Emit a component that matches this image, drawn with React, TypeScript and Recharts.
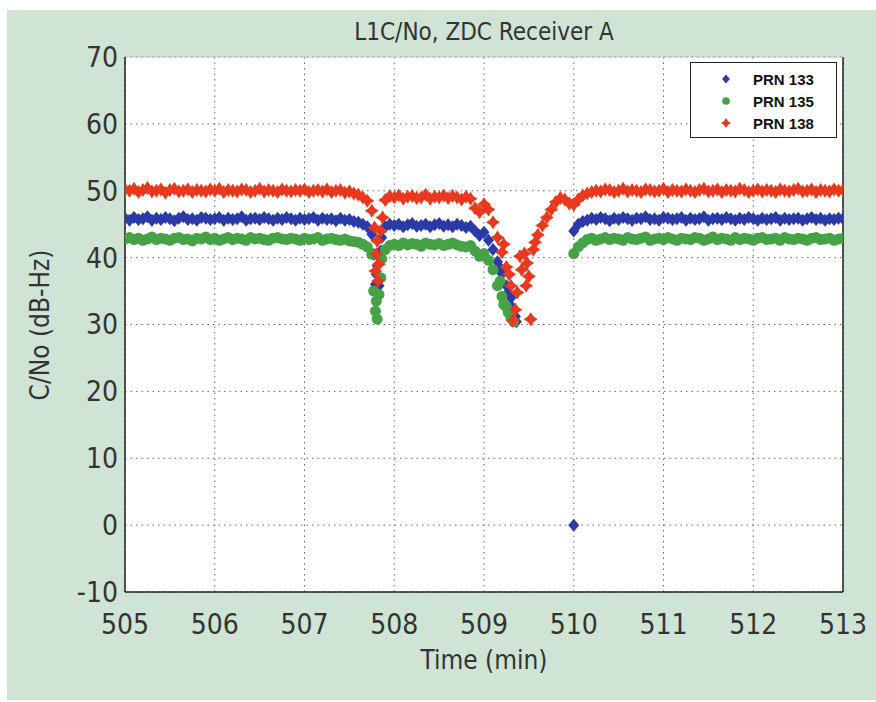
import React from 'react'
import { ScatterChart, Scatter, XAxis, YAxis, CartesianGrid, ReferenceLine } from 'recharts'

// samples every 0.05 min starting at 505.00 (index -> time)
const START = 505
const STEP = 0.05

const prn138 = [
  50.2, 50.0, 50.3, 49.8, 50.1, 50.4, 49.9, 50.0, 50.2, 49.7, 50.1, 50.3, 49.9, 50.0, 50.2, 49.8, 50.1, 50.0, 49.9, 50.2,
  50.0, 50.3, 49.8, 50.1, 50.0, 49.9, 50.2, 50.1, 49.8, 50.0, 50.3, 49.9, 50.1, 50.0, 49.8, 50.2, 50.0, 49.9, 50.1, 50.0,
  50.2, 49.8, 50.0, 50.1, 49.9, 50.2, 49.8, 50.0, 50.1, 49.7, 49.9, 49.6, 49.4, 49.0, 48.5,
  47.0, 40.5, 44.0, 48.6, 49.2,
  49.0, 49.3, 48.8, 49.1, 49.2, 48.9, 49.0, 49.4, 48.8, 49.1, 49.0, 49.3, 48.9, 49.2, 49.0, 48.7, 49.1, 48.8,
  47.4, 46.8, 48.0, 47.2, 45.3, 43.0, 40.8, 38.6, 35.8, 32.2, 40.2, 40.6, 37.2, 41.2, 43.4, 44.8, 46.0, 47.2,
  48.3, 48.9, 48.7, 48.1, 47.9, 48.7, 49.3, 49.6,
  49.8, 50.0, 49.9, 50.2, 50.1, 49.8, 50.0, 50.3, 49.9, 50.1,
  50.0, 49.8, 50.2, 50.1, 49.9, 50.0, 50.3, 49.8, 50.1, 50.0,
  49.9, 50.2, 50.0, 49.8, 50.1, 50.3, 49.9, 50.0, 50.2, 49.8,
  50.1, 50.0, 49.9, 50.3, 50.1, 49.8, 50.0, 50.2, 49.9, 50.1,
  50.0, 49.8, 50.2, 50.0, 49.9, 50.1, 50.3, 49.9, 50.0, 50.2,
  49.8, 50.1, 50.0, 49.9, 50.2, 50.0, 50.1,
]

const prn133 = [
  45.9, 45.6, 46.0, 45.7, 45.8, 46.1, 45.6, 45.9, 45.7, 46.0,
  45.8, 45.5, 45.9, 46.1, 45.7, 45.8, 45.6, 46.0, 45.9, 45.7,
  45.8, 46.0, 45.6, 45.9, 45.7, 45.8, 46.1, 45.6, 45.8, 45.9,
  45.7, 46.0, 45.8, 45.6, 45.9, 45.7, 46.0, 45.8, 45.6, 45.9,
  45.7, 45.8, 46.0, 45.6, 45.9, 45.7, 45.8, 45.5, 45.9, 45.6,
  45.7, 45.4, 45.3, 45.0, 44.6,
  43.5, 37.5, 41.0, 44.6, 45.0,
  44.8, 45.0, 44.6, 44.9, 45.1, 44.7, 44.8, 45.0, 44.6, 44.9, 45.1, 44.7, 44.9, 44.6, 45.0, 44.8, 44.5, 44.7,
  44.0, 43.3, 43.8, 42.6, 41.2, 39.4, 37.6, 35.8, 34.0, 31.2,
  null, null, null, null, null, null, null, null, null, null, null, null,
  44.0, 45.0, 45.4,
  45.6, 45.9, 45.7, 46.0, 45.8, 45.5, 45.9, 45.7, 46.0, 45.8,
  45.6, 45.9, 45.8, 46.1, 45.7, 45.8, 45.6, 46.0, 45.9, 45.7,
  45.8, 46.0, 45.6, 45.9, 45.7, 45.8, 46.1, 45.6, 45.8, 45.9,
  45.7, 46.0, 45.8, 45.6, 45.9, 45.7, 46.0, 45.8, 45.6, 45.9,
  45.7, 45.8, 46.0, 45.6, 45.9, 45.7, 45.8, 45.9, 45.6, 45.8,
  46.0, 45.7, 45.9, 45.6, 45.8, 45.7, 45.9, 45.8,
]

const prn135 = [
  42.8, 43.0, 42.7, 42.9, 42.6, 42.8, 43.1, 42.7, 42.9, 42.8,
  42.6, 42.9, 43.0, 42.7, 42.8, 42.5, 42.9, 42.8, 43.1, 42.7,
  42.9, 42.6, 42.8, 43.0, 42.7, 42.9, 42.8, 42.6, 43.0, 42.8,
  42.9, 42.7, 42.6, 42.9, 43.0, 42.8, 42.7, 42.9, 42.8, 42.6,
  42.9, 42.7, 42.8, 43.0, 42.6, 42.8, 42.9, 42.7, 42.6, 42.8,
  42.5, 42.4, 42.3, 42.0, 41.6,
  40.5, 33.5, 37.0, 41.2, 41.8,
  42.0, 41.8, 42.2, 41.9, 42.1, 42.0, 41.7, 42.2, 42.0, 41.9, 42.1, 41.8, 42.0, 42.2, 41.9, 41.7, 41.6, 41.8,
  41.0, 40.2, 40.6, 39.6, 38.2, 35.8, 34.2, 32.6, 31.0,
  null, null, null, null, null, null, null, null, null, null, null, null, null,
  40.6, 41.6, 42.2,
  42.7, 42.9, 42.6, 42.8, 43.0, 42.7, 42.9, 42.8, 42.6, 43.0,
  42.8, 42.7, 42.9, 43.1, 42.6, 42.8, 42.9, 42.7, 43.0, 42.8,
  42.6, 42.9, 42.8, 42.7, 43.0, 42.9, 42.6, 42.8, 43.1, 42.7,
  42.9, 42.8, 42.6, 43.0, 42.7, 42.9, 42.8, 42.6, 42.9, 43.0,
  42.7, 42.8, 42.9, 42.6, 43.0, 42.8, 42.7, 42.9, 42.8, 42.6,
  42.9, 43.0, 42.7, 42.8, 42.9, 42.6, 42.8, 42.9,
]

// scattered samples inside the two fades: [time, C/No]
const prn138Extra = [
  [507.78, 44.5], [507.79, 38.0], [507.81, 42.5], [507.82, 36.5], [507.83, 39.0], [507.87, 46.0],
  [509.22, 42.0], [509.28, 37.5], [509.32, 30.6], [509.37, 34.8], [509.42, 38.2], [509.47, 35.8],
  [509.48, 39.2], [509.52, 30.8], [509.57, 42.3],
]
const prn133Extra = [
  [507.77, 40.5], [507.79, 36.0], [507.81, 38.8], [507.83, 35.8], [507.86, 43.0],
  [509.18, 38.5], [509.27, 34.8], [509.32, 32.5], [509.36, 30.4], [510.0, 0],
]
const prn135Extra = [
  [507.77, 35.0], [507.79, 32.0], [507.81, 30.8], [507.83, 34.5], [507.86, 39.8],
  [509.18, 36.5], [509.22, 33.0], [509.27, 31.8], [509.33, 30.4],
]

const xTicks = [505, 506, 507, 508, 509, 510, 511, 512, 513]
const yTicks = [-10, 0, 10, 20, 30, 40, 50, 60, 70]

const COLORS = {
  blue: '#2b3aa8',
  green: '#45a346',
  red: '#e8391f',
}

const FONT = "'Liberation Sans Narrow', 'DejaVu Sans Condensed', 'Arial Narrow', sans-serif"

function toPoints(values: (number | null)[], extra: number[][]) {
  const pts: { t: number; v: number }[] = []
  values.forEach((v, i) => {
    if (v !== null) pts.push({ t: +(START + i * STEP).toFixed(2), v })
  })
  extra.forEach(([t, v]) => pts.push({ t, v }))
  return pts
}

function Marker({ kind, cx, cy, fill, scale = 1 }: { kind: string; cx: number; cy: number; fill: string; scale?: number }) {
  if (kind === 'circle') return <circle cx={cx} cy={cy} r={5.5 * scale} fill={fill} />
  if (kind === 'diamond') {
    const w = 5.5 * scale
    const h = 6.5 * scale
    return <polygon points={`${cx},${cy - h} ${cx + w},${cy} ${cx},${cy + h} ${cx - w},${cy}`} fill={fill} />
  }
  const r = 7 * scale
  const q = 2.8 * scale
  return (
    <polygon
      points={`${cx},${cy - r} ${cx + q},${cy - q} ${cx + r},${cy} ${cx + q},${cy + q} ${cx},${cy + r} ${cx - q},${cy + q} ${cx - r},${cy} ${cx - q},${cy - q}`}
      fill={fill}
    />
  )
}

const series = [
  { name: 'PRN 133', data: toPoints(prn133, prn133Extra), color: COLORS.blue, kind: 'diamond' },
  { name: 'PRN 135', data: toPoints(prn135, prn135Extra), color: COLORS.green, kind: 'circle' },
  { name: 'PRN 138', data: toPoints(prn138, prn138Extra), color: COLORS.red, kind: 'star' },
]

function LegendBox() {
  return (
    <div
      style={{
        position: 'absolute',
        left: 690,
        top: 62,
        border: '1.5px solid #222',
        background: '#fff',
        width: 147,
        height: 76,
        boxSizing: 'border-box',
        paddingTop: 5,
      }}
    >
      {series.map((s) => (
        <div key={s.name} style={{ display: 'flex', alignItems: 'center', height: 22 }}>
          <svg width={62} height={14}>
            <Marker kind={s.kind} cx={35} cy={7} fill={s.color} scale={0.7} />
          </svg>
          <span style={{ fontFamily: 'Liberation Sans, Arial, sans-serif', fontSize: 15, color: '#111', fontWeight: 600 }}>{s.name}</span>
        </div>
      ))}
    </div>
  )
}

export default function App() {
  return (
    <div style={{ position: 'absolute', left: 0, top: 0, width: 876, height: 702, background: '#fff' }}>
      <div style={{ position: 'absolute', left: 7, top: 10, width: 869, height: 690, background: '#cfe4d5' }} />
      <div style={{ position: 'absolute', left: 0, top: 0 }}>
        <ScatterChart width={876} height={702} margin={{ top: 57, right: 33, bottom: 70, left: 65 }}>
          <CartesianGrid fill="#fff" stroke="#666" strokeDasharray="1.5 4" />
          <XAxis
            type="number"
            dataKey="t"
            domain={[505, 513]}
            ticks={xTicks}
            height={40}
            tickLine={false}
            tickSize={0}
            tickMargin={22}
            axisLine={{ stroke: '#222', strokeWidth: 1.5 }}
            tick={{ fontSize: 28, fill: '#333', fontFamily: FONT }}
            allowDataOverflow
          />
          <YAxis
            type="number"
            dataKey="v"
            domain={[-10, 70]}
            ticks={yTicks}
            width={60}
            tickLine={false}
            tickSize={0}
            tickMargin={7}
            axisLine={{ stroke: '#222', strokeWidth: 1.5 }}
            tick={{ fontSize: 28, fill: '#333', fontFamily: FONT }}
            allowDataOverflow
          />
          <ReferenceLine x={513} stroke="#222" strokeWidth={1.5} />
          <ReferenceLine y={70} stroke="#ccc" strokeWidth={1} />
          {series.map((s) => (
            <Scatter
              key={s.name}
              name={s.name}
              data={s.data}
              fill={s.color}
              shape={(p: any) => <Marker kind={s.kind} cx={p.cx} cy={p.cy} fill={s.color} />}
              isAnimationActive={false}
            />
          ))}
        </ScatterChart>
      </div>
      <LegendBox />
      <div style={{ position: 'absolute', left: 125, width: 718, top: 18, textAlign: 'center', fontFamily: FONT, fontSize: 24, color: '#333' }}>
        L1C/No, ZDC Receiver A
      </div>
      <div style={{ position: 'absolute', left: 125, width: 718, top: 645, textAlign: 'center', fontFamily: FONT, fontSize: 26, color: '#333' }}>
        Time (min)
      </div>
      <div
        style={{
          position: 'absolute',
          left: 40,
          top: 325,
          transform: 'translate(-50%, -50%) rotate(-90deg)',
          whiteSpace: 'nowrap',
          fontFamily: FONT,
          fontSize: 26,
          color: '#333',
        }}
      >
        C/No (dB-Hz)
      </div>
    </div>
  )
}
